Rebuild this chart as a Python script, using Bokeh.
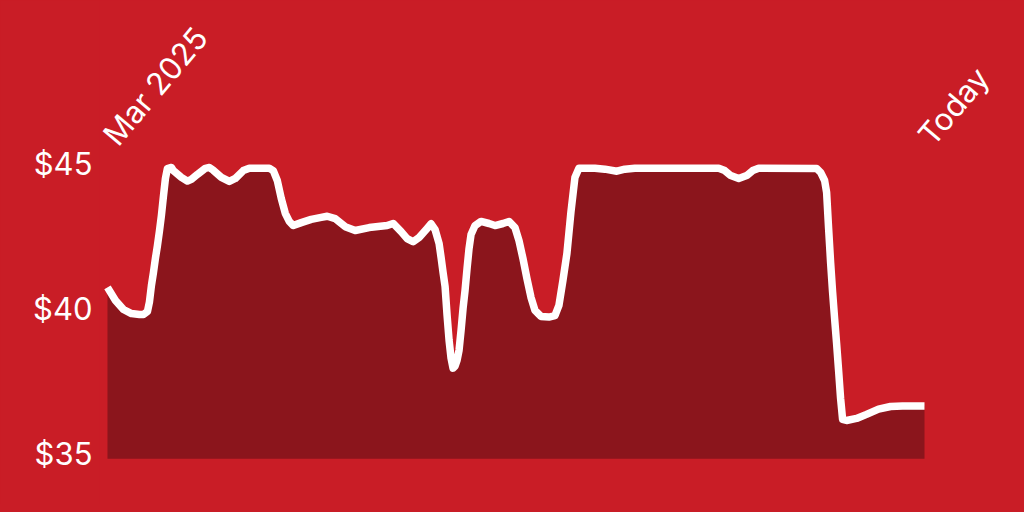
import math
from bokeh.plotting import figure
from bokeh.models import (Range1d, FixedTicker, PrintfTickFormatter, ColumnDataSource,
                          LinearAxis)
from bokeh.core.properties import value
from bokeh.embed import file_html
from bokeh.resources import INLINE

# ---- data ----
DAYS = [0, 4, 8, 12, 16, 18, 20, 21, 22, 23, 24, 25, 26, 27, 28, 29, 30, 32,
        33, 37, 40, 42, 45, 49, 51, 53, 57, 61, 64, 68, 71, 81,
        83, 85, 87, 89, 91, 93, 97, 102, 107, 110, 114, 119, 124, 131, 140, 143,
        147, 150, 153, 156, 160, 162, 164, 166, 167, 168, 169, 170, 171, 172, 173,
        174, 175, 176, 177, 178, 179, 180, 181, 182, 184, 187, 191, 194, 198, 201,
        204, 206, 208, 210, 212, 214, 217, 221, 224, 226, 228, 230, 232, 234, 236,
        244, 249, 255, 259, 264, 306, 309, 312, 316, 320, 323, 326, 355, 357,
        359, 360, 361, 362, 363, 364, 365, 366, 367, 368, 370, 375, 380, 386, 392,
        398, 409]
PRICE = [40.90, 40.45, 40.14, 40.00, 39.97, 39.97, 40.07, 40.40, 40.97, 41.41,
         41.90, 42.34, 42.83, 43.38, 44.03, 44.65, 44.99, 45.03,
         44.92, 44.69, 44.56, 44.62, 44.79, 45.00, 45.03, 44.93, 44.69, 44.55,
         44.65, 44.92, 45.00, 45.00,
         44.92, 44.58, 43.96, 43.45, 43.17, 43.03, 43.13, 43.24, 43.31, 43.35,
         43.27, 42.99, 42.86, 42.96, 43.03, 43.10,
         42.82, 42.58, 42.47, 42.62, 42.93, 43.09, 42.89, 42.41, 41.93, 41.41,
         40.93, 39.94, 39.08, 38.46, 38.12,
         38.19, 38.39, 38.74, 39.42, 40.18, 40.80, 41.55, 42.24, 42.72, 43.03,
         43.17, 43.10, 43.03, 43.10, 43.17,
         42.96, 42.51, 41.89, 41.20, 40.56, 40.11, 39.90, 39.88, 39.93, 40.28,
         41.14, 42.07, 43.49, 44.68, 45.00,
         45.00, 44.97, 44.90, 44.97, 45.00, 45.00, 44.92, 44.75, 44.65, 44.75,
         44.92, 45.00, 44.99, 44.86,
         44.58, 44.17, 42.93, 41.76, 40.73, 39.83, 38.97, 38.04, 37.08, 36.36,
         36.32, 36.39, 36.53, 36.71, 36.80,
         36.82, 36.82]
Y_TICKS = [35, 40, 45]
START_LABEL = "Mar 2025"
END_LABEL = "Today"
LABEL_LEVEL = 45.96

BG = "#C91D26"
FILL = "#8B151C"
FONT = "Inter"
FONT_SIZE = "31px"
LABEL_ANGLE = math.radians(50)

Y0, Y1 = 33.427, 50.776
LABEL_SHIFT = 0.17   # tick labels sit slightly above their value

p = figure(width=1016, height=504, output_backend="svg", toolbar_location=None,
           x_range=Range1d(-4.0, 455.06), y_range=Range1d(Y0, Y1),
           x_axis_type=None, y_axis_type=None,
           min_border_left=99, min_border_right=0,
           min_border_top=0, min_border_bottom=0)
p.background_fill_color = BG
p.border_fill_color = BG
p.outline_line_color = None
p.grid.visible = False

p.extra_y_ranges = {"ticks": Range1d(Y0 - LABEL_SHIFT, Y1 - LABEL_SHIFT)}
ax = LinearAxis(y_range_name="ticks")
ax.ticker = FixedTicker(ticks=Y_TICKS)
ax.formatter = PrintfTickFormatter(format="$%d")
ax.axis_line_color = None
ax.major_tick_line_color = None
ax.minor_tick_line_color = None
ax.major_tick_in = 0
ax.major_tick_out = 0
ax.major_label_standoff = 7
ax.major_label_text_color = "white"
ax.major_label_text_font = FONT
ax.major_label_text_font_size = FONT_SIZE
p.add_layout(ax, "left")

src = ColumnDataSource(dict(day=DAYS, price=PRICE))
p.varea(x="day", y1=Y_TICKS[0], y2="price", source=src, fill_color=FILL)
p.line(x="day", y="price", source=src, line_color="white", line_width=7.5,
       line_join="round", line_cap="butt")

p.text(x=[DAYS[0]], y=[LABEL_LEVEL], text=[START_LABEL], angle=LABEL_ANGLE,
       x_offset=2, text_font=value(FONT), text_font_size=FONT_SIZE,
       text_color="white", text_align="left", text_baseline="alphabetic")
p.text(x=[DAYS[-1]], y=[LABEL_LEVEL], text=[END_LABEL], angle=LABEL_ANGLE,
       x_offset=0, text_font=value(FONT), text_font_size=FONT_SIZE,
       text_color="white", text_align="left", text_baseline="alphabetic")

html = file_html(p, INLINE, title="Price chart")
html = html.replace("</head>", "<style>html,body{background:%s;}</style></head>" % BG, 1)
open("out.html", "w").write(html)
